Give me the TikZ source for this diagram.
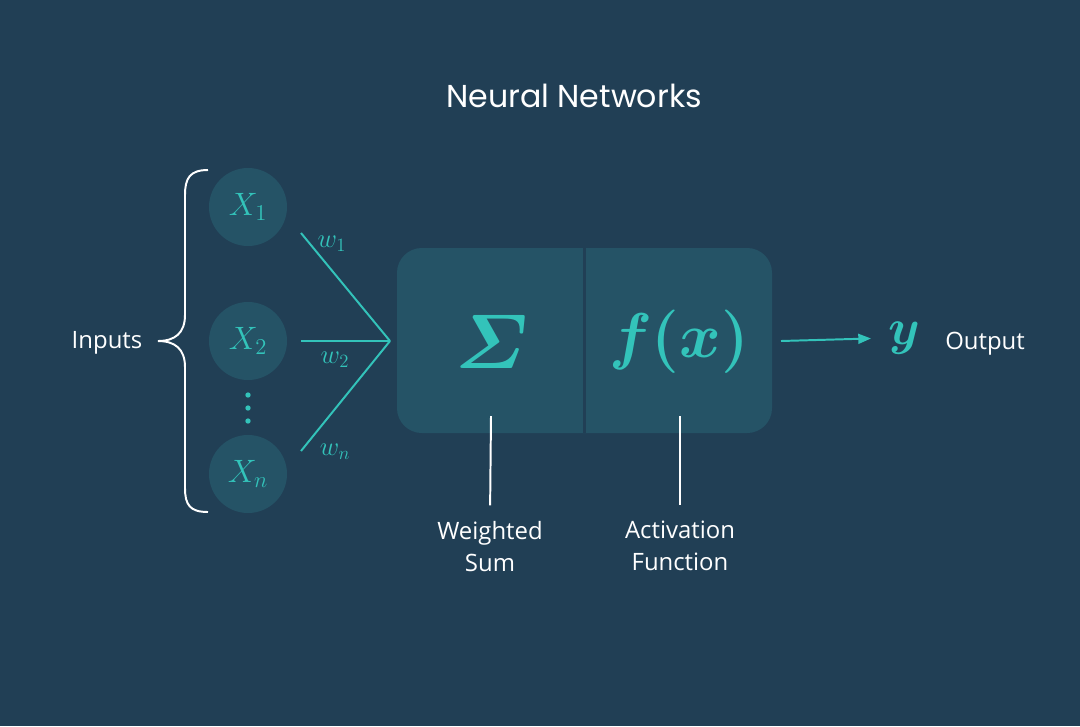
\RequirePackage{fix-cm}
\documentclass[tikz,border=0pt]{standalone}
\usepackage{amsmath}
\usepackage{fontspec}
\setmainfont{Open Sans}
\newfontfamily\titlefont{Poppins}
\usetikzlibrary{arrows.meta}
\definecolor{bgblue}{HTML}{213F55}
\definecolor{cellblue}{HTML}{255366}
\definecolor{nnteal}{HTML}{33C3BA}
\tikzset{
  inputnode/.style={circle,fill=cellblue,minimum size=1.95cm,inner sep=0pt,
    text=nnteal,font=\fontsize{23}{26}\selectfont},
  weightlabel/.style={text=nnteal,font=\fontsize{19}{22}\selectfont,inner sep=1pt},
  caption/.style={text=white,font=\fontsize{17}{23}\selectfont,align=center,inner sep=2pt},
  tealline/.style={nnteal,line width=1.4pt},
  tickline/.style={white,line width=1.4pt}
}
\begin{document}
\begin{tikzpicture}[x=0.025cm,y=-0.025cm]
  \fill[bgblue] (0,0) rectangle (1080,726);
  \useasboundingbox (0,0) rectangle (1080,726);
  \node[text=white,font=\titlefont\fontsize{22.5}{26}\selectfont] (title) at (574,96) {Neural Networks};
  % inputs
  \node[inputnode] (x1) at (248,207) {$X_1$};
  \node[inputnode] (x2) at (248,341) {$X_2$};
  \node[inputnode] (xn) at (248,474) {$X_n$};
  \foreach \yy in {395,408,421}
    \fill[nnteal] (248,\yy) circle[radius=1.9pt];
  \draw[white,line width=1.4pt] (208,170) .. controls (190,170) and (185,178) .. (185,195)
    -- (185,315) .. controls (185,333) and (175,341) .. (158,341)
    .. controls (175,341) and (185,349) .. (185,367)
    -- (185,488) .. controls (185,505) and (190,512) .. (208,512);
  \node[caption] (inputs) at (107,343) {Inputs};
  % weights
  \coordinate (w1s) at (301,233);
  \coordinate (w2s) at (301,341);
  \coordinate (wns) at (301,451);
  \coordinate (join) at (390,341);
  \draw[tealline] (w1s) -- (join);
  \draw[tealline] (w2s) -- (join);
  \draw[tealline] (wns) -- (join);
  \node[weightlabel] (w1) at (332,244) {$w_1$};
  \node[weightlabel] (w2) at (335,360) {$w_2$};
  \node[weightlabel] (wn) at (335,452) {$w_n$};
  % neuron
  \fill[cellblue,rounded corners=0.62cm] (397,248) rectangle (772,433);
  \draw[bgblue,line width=2.8pt] (584.5,248) -- (584.5,433);
  \node[text=nnteal,font=\fontsize{55}{60}\selectfont\boldmath] (sum) at (492,342) {$\varSigma$};
  \node[text=nnteal,font=\fontsize{45}{52}\selectfont\boldmath] (act) at (679,342) {$f(x)$};
  \coordinate (sumtick) at (491,416);
  \coordinate (acttick) at (680,416);
  \node[caption,anchor=north] (wsum) at (490,518) {Weighted\\Sum};
  \node[caption,anchor=north] (afun) at (680,518) {Activation\\Function};
  \draw[tickline,shorten >=9pt] (sumtick) -- (wsum.north);
  \draw[tickline,shorten >=9pt] (acttick) -- (afun.north);
  % output
  \coordinate (outs) at (781,341);
  \node[text=nnteal,font=\fontsize{36}{42}\selectfont\boldmath,inner sep=0pt] (yout) at (904,338) {$y$};
  \node[caption] (output) at (985,344) {Output};
  \draw[tealline,-{Triangle[length=9pt,width=7pt]},shorten >=12pt] (outs) -- (yout.west);
\end{tikzpicture}
\end{document}
